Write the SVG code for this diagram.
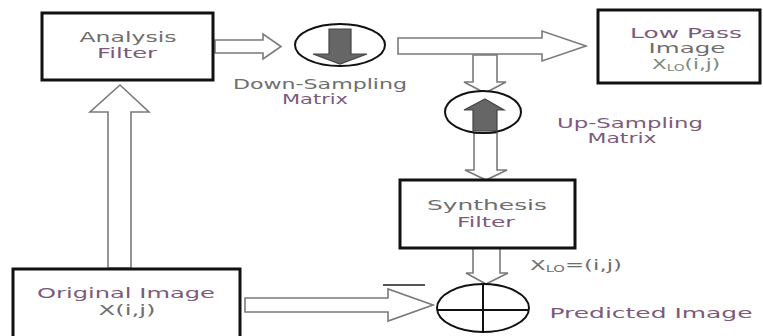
<svg xmlns="http://www.w3.org/2000/svg" width="763" height="336" viewBox="0 0 763 336">
<style>
.box{fill:#fff;stroke:#111;stroke-width:3}
.arr{fill:#fff;stroke:#7a7a7a;stroke-width:1.6;stroke-linejoin:miter}
.ell{fill:#fff;stroke:#111;stroke-width:2}
.dark{fill:#666;stroke:#444;stroke-width:1.2}
text{font-family:"DejaVu Sans","Verdana",sans-serif;font-size:14px;text-anchor:middle}
.g{fill:#6e6e6e}
.p{fill:#7d5a7d}
.c{fill:#7a8a7a}
</style>
<rect width="763" height="336" fill="#fff"/>
<g id="connectors">
<polygon class="arr" points="215,40 263,40 263,34 281,46.5 263,59 263,53 215,53"/>
<polygon class="arr" points="398,38 542,38 542,31 586,46 542,61 542,54 398,54"/>
<polygon class="arr" points="473,55 497,55 497,82 506,82 485,93 464,82 473,82"/>
<polygon class="arr" points="474,133 497,133 497,170 507,170 486,180 465,170 474,170"/>
<polygon class="arr" points="473,248 500,248 500,273 508,273 486,284 466,273 473,273"/>
<polygon class="arr" points="245,298 388,298 388,289 433,305 388,321 388,312 245,312"/>
<polygon class="arr" points="108,268 108,112 90,112 120,85 149,112 131,112 131,268"/>
<line x1="383" y1="285" x2="425" y2="285" stroke="#555" stroke-width="2"/>
</g>
<g id="analysis-filter">
<rect class="box" x="42" y="13" width="171" height="67"/>
<text class="g" x="128" y="42" textLength="97" lengthAdjust="spacingAndGlyphs">Analysis</text>
<text class="p" x="127" y="58" textLength="60" lengthAdjust="spacingAndGlyphs">Filter</text>
</g>
<g id="down-sampling">
<ellipse class="ell" cx="340" cy="45" rx="45" ry="21"/>
<polygon class="dark" points="329,29 351,29 351,54 367,54 340,64 313,54 329,54"/>
<text class="g" x="320" y="89" font-size="13" textLength="174" lengthAdjust="spacingAndGlyphs">Down-Sampling</text>
<text class="p" x="315" y="104" font-size="13" textLength="66" lengthAdjust="spacingAndGlyphs">Matrix</text>
</g>
<g id="low-pass">
<rect class="box" x="598" y="10" width="162" height="73"/>
<text class="p" x="686" y="38" textLength="112" lengthAdjust="spacingAndGlyphs">Low Pass</text>
<text class="g" x="687" y="53" textLength="77" lengthAdjust="spacingAndGlyphs">Image</text>
<text class="c" x="686" y="69" textLength="68" lengthAdjust="spacingAndGlyphs">X<tspan font-size="9" dy="2">LO</tspan><tspan dy="-2">(i,j)</tspan></text>
</g>
<g id="up-sampling">
<ellipse class="ell" cx="483" cy="112" rx="38" ry="21"/>
<polygon class="dark" points="485,99 504,110 497,110 497,131 473,131 473,110 464,110"/>
<text class="p" x="630" y="128" font-size="13" textLength="146" lengthAdjust="spacingAndGlyphs">Up-Sampling</text>
<text class="p" x="622" y="143" font-size="13" textLength="69" lengthAdjust="spacingAndGlyphs">Matrix</text>
</g>
<g id="synthesis-filter">
<rect class="box" x="400" y="180" width="175" height="68"/>
<text class="g" x="487" y="210" textLength="120" lengthAdjust="spacingAndGlyphs">Synthesis</text>
<text class="p" x="486" y="227" textLength="58" lengthAdjust="spacingAndGlyphs">Filter</text>
</g>
<g id="original-image">
<rect class="box" x="13" y="269" width="227" height="72"/>
<text class="p" x="126" y="298" textLength="178" lengthAdjust="spacingAndGlyphs">Original Image</text>
<text class="g" x="127" y="315" textLength="57" lengthAdjust="spacingAndGlyphs">X(i,j)</text>
</g>
<g id="summation">
<ellipse class="ell" cx="483" cy="308" rx="46" ry="24"/>
<line x1="437" y1="310" x2="529" y2="310" stroke="#111" stroke-width="2"/>
<line x1="483" y1="284" x2="483" y2="332" stroke="#111" stroke-width="2"/>
<text class="g" x="576" y="270" textLength="92" lengthAdjust="spacingAndGlyphs">X<tspan font-size="9" dy="2">LO</tspan><tspan dy="-2">=(i,j)</tspan></text>
<text class="p" x="651" y="318" font-size="15" textLength="203" lengthAdjust="spacingAndGlyphs">Predicted Image</text>
</g>
</svg>
